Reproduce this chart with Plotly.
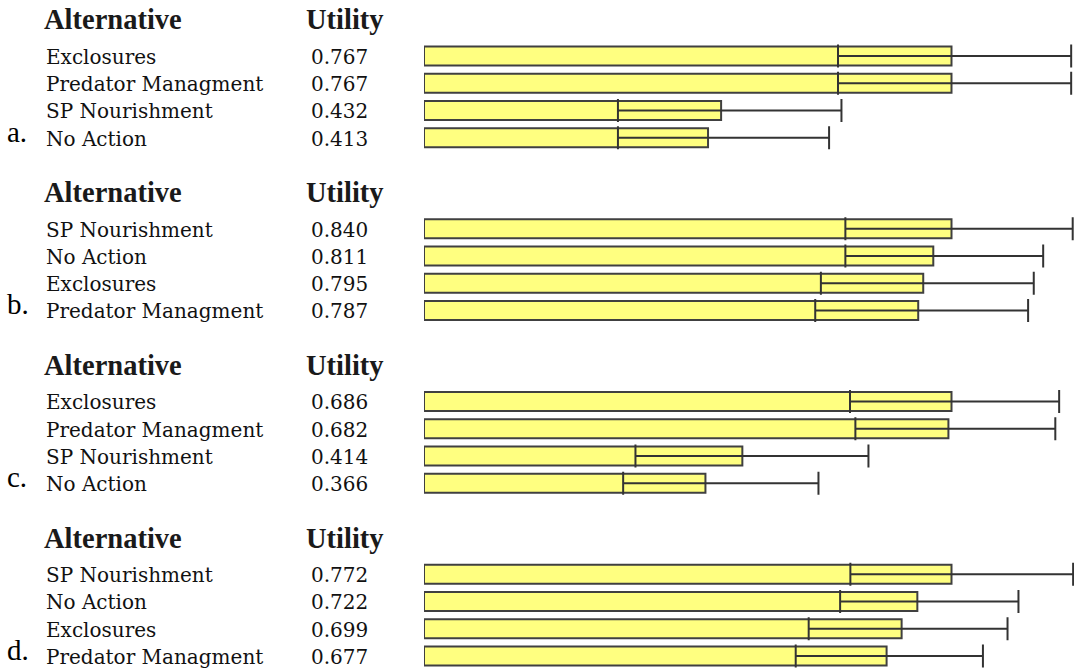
import plotly.graph_objects as go

# ---------------- data ----------------
letters = ["a.", "b.", "c.", "d."]
header_alt = "Alternative"
header_util = "Utility"

alts_a = ["Exclosures", "Predator Managment", "SP Nourishment", "No Action"]
util_a = [0.767, 0.767, 0.432, 0.413]
low_a = [0.602, 0.602, 0.282, 0.282]
high_a = [0.941, 0.941, 0.607, 0.589]

alts_b = ["SP Nourishment", "No Action", "Exclosures", "Predator Managment"]
util_b = [0.840, 0.811, 0.795, 0.787]
low_b = [0.671, 0.671, 0.632, 0.623]
high_b = [1.033, 0.986, 0.971, 0.962]

alts_c = ["Exclosures", "Predator Managment", "SP Nourishment", "No Action"]
util_c = [0.686, 0.682, 0.414, 0.366]
low_c = [0.554, 0.561, 0.275, 0.259]
high_c = [0.826, 0.821, 0.578, 0.513]

alts_d = ["SP Nourishment", "No Action", "Exclosures", "Predator Managment"]
util_d = [0.772, 0.722, 0.699, 0.677]
low_d = [0.624, 0.609, 0.563, 0.544]
high_d = [0.950, 0.870, 0.854, 0.818]

panels = [
    (alts_a, util_a, low_a, high_a),
    (alts_b, util_b, low_b, high_b),
    (alts_c, util_c, low_c, high_c),
    (alts_d, util_d, low_d, high_d),
]

# ---------------- layout constants ----------------
W, H = 1074, 671
BAR_X0 = 424.0      # px where utility 0 sits
BAR_TOP = 951.5     # px where each panel's best utility ends
ROW0 = [56.0, 228.7, 401.5, 574.3]   # px centre of first row in each panel
PITCH = 27.25       # px between rows
HEAD_OFFSET = 36.0  # px from first row centre up to header centre
LABEL_X = 44
VALUE_X = 309
HEAD_ALT_X = 42
HEAD_UTIL_X = 304
LETTER_X = 5

label_font = dict(family="DejaVu Serif", size=20, color="#111111")
head_font = dict(family="Liberation Serif", size=28.5, color="#1a1a1a", weight="bold")
letter_font = dict(family="Liberation Serif", size=29, color="#000000")

fig = go.Figure()
annotations = []
layout_axes = {}

for i, (alts, util, low, high) in enumerate(panels):
    sfx = "" if i == 0 else str(i + 1)
    rows = list(range(len(alts)))
    fig.add_trace(go.Bar(
        x=util, y=rows, orientation="h", base=0, width=0.7,
        marker=dict(color="#FFFF80", line=dict(color="#404040", width=2)),
        error_x=dict(type="data", symmetric=False,
                     array=[h - u for h, u in zip(high, util)],
                     arrayminus=[u - l for u, l in zip(util, low)],
                     color="#333333", thickness=2, width=11.5),
        xaxis="x" + sfx, yaxis="y" + sfx,
        showlegend=False, hoverinfo="skip",
    ))
    top_px = ROW0[i] - 0.5 * PITCH
    bot_px = ROW0[i] + (len(alts) - 0.5) * PITCH
    xmax = max(util) * (W - BAR_X0) / (BAR_TOP - BAR_X0)
    layout_axes["xaxis" + sfx] = dict(domain=[BAR_X0 / W, 1], range=[0, xmax],
                                      visible=False, anchor="y" + sfx, fixedrange=True)
    layout_axes["yaxis" + sfx] = dict(domain=[1 - bot_px / H, 1 - top_px / H],
                                      range=[len(alts) - 0.5, -0.5],
                                      visible=False, anchor="x" + sfx, fixedrange=True)
    yref = "y" + sfx
    head_y = 1 - (ROW0[i] - HEAD_OFFSET) / H
    annotations.append(dict(text=header_alt, x=HEAD_ALT_X / W, xref="paper", xanchor="left",
                            y=head_y, yref="paper", yanchor="middle", showarrow=False,
                            font=head_font))
    annotations.append(dict(text=header_util, x=HEAD_UTIL_X / W, xref="paper", xanchor="left",
                            y=head_y, yref="paper", yanchor="middle", showarrow=False,
                            font=head_font))
    for r, (name, u) in enumerate(zip(alts, util)):
        annotations.append(dict(text=name, x=LABEL_X / W, xref="paper", xanchor="left",
                                y=r + 0.03, yref=yref, yanchor="middle", showarrow=False,
                                font=label_font))
        annotations.append(dict(text=f"{u:.3f}", x=VALUE_X / W, xref="paper", xanchor="left",
                                y=r + 0.03, yref=yref, yanchor="middle", showarrow=False,
                                font=label_font))
    annotations.append(dict(text=letters[i], x=LETTER_X / W, xref="paper", xanchor="left",
                            y=len(alts) - 1.22, yref=yref, yanchor="middle", showarrow=False,
                            font=letter_font))

fig.update_layout(
    width=W, height=H,
    margin=dict(l=0, r=0, t=0, b=0),
    paper_bgcolor="white", plot_bgcolor="white",
    annotations=annotations,
    **layout_axes,
)

fig.write_html("out.html", post_script="document.body.style.margin='0';",
               config={"displayModeBar": False})
